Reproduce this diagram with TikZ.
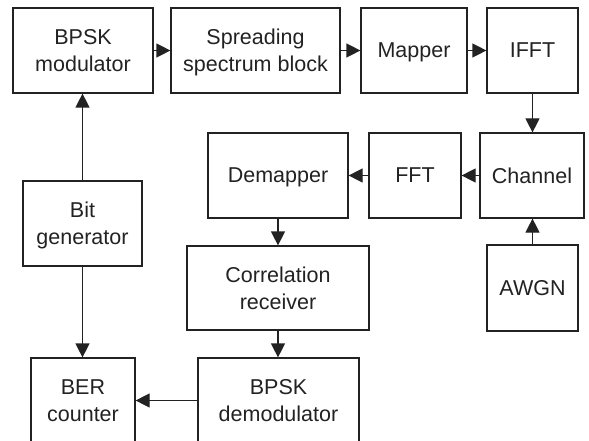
\documentclass[tikz,border=0pt]{standalone}
\usepackage{fontspec}
\setmainfont{Liberation Sans}
\usetikzlibrary{arrows.meta}
\definecolor{ink}{HTML}{222222}
\begin{document}
\begin{tikzpicture}[x=1pt,y=-1pt,
  blk/.style={draw=ink,line width=1.2pt,rectangle,inner sep=0pt,minimum height=85pt,
    align=center,text=ink,text depth=0pt,font=\fontsize{21.5}{27}\selectfont},
  conn/.style={draw=ink,line width=1.2pt,-{Triangle[length=14pt,width=14pt]}}]
\useasboundingbox (0,0) rectangle (589,441);
\node[blk,minimum width=140pt] (bpskmod) at (83,50.5) {BPSK\\modulator};
\node[blk,minimum width=169pt] (spread) at (255.5,50.5) {Spreading\\spectrum block};
\node[blk,minimum width=106pt] (mapper) at (414,50.5) {Mapper};
\node[blk,minimum width=91pt] (ifft) at (532.5,50.5) {IFFT};
\node[blk,minimum width=104pt] (channel) at (532,175.5) {Channel};
\node[blk,minimum width=92pt] (fft) at (415,175.5) {FFT};
\node[blk,minimum width=140pt] (demapper) at (278,175.5) {Demapper};
\node[blk,minimum width=119pt] (bitgen) at (82.5,223.5) {Bit\\generator};
\node[blk,minimum width=182pt,minimum height=84pt] (corr) at (278,288) {Correlation\\receiver};
\node[blk,minimum width=91pt,minimum height=86pt] (awgn) at (532.5,288) {AWGN};
\node[blk,minimum width=104pt] (ber) at (83,400.5) {BER\\counter};
\node[blk,minimum width=161pt] (demod) at (278.5,400.5) {BPSK\\demodulator};
\draw[conn] (bpskmod) -- (spread);
\draw[conn] (spread) -- (mapper);
\draw[conn] (mapper) -- (ifft);
\draw[conn] (ifft.south) -- (ifft.south |- channel.north);
\draw[conn] (channel) -- (fft);
\draw[conn] (fft) -- (demapper);
\draw[conn] (demapper.south) -- (demapper.south |- corr.north);
\draw[conn] (corr.south) -- (corr.south |- demod.north);
\draw[conn] (demod) -- (ber);
\draw[conn] (awgn.north) -- (awgn.north |- channel.south);
\draw[conn] (bitgen.north) -- (bitgen.north |- bpskmod.south);
\draw[conn] (bitgen.south) -- (bitgen.south |- ber.north);
\end{tikzpicture}
\end{document}
